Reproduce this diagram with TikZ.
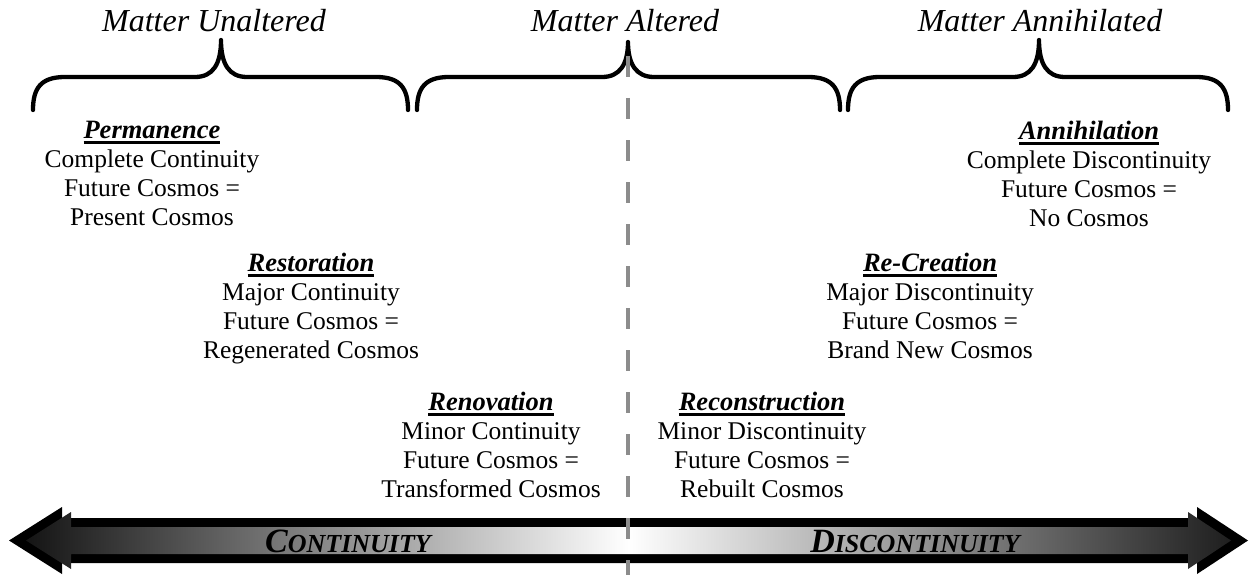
\documentclass[tikz,border=0pt]{standalone}
\usepackage{fontspec}
\setmainfont{Liberation Serif}
% bold italic title with a heavy underline
\newcommand\titleline[1]{\setbox0\hbox{\fontsize{26.5}{29}\selectfont\bfseries\itshape #1}\rlap{\rule[-5pt]{\wd0}{2.3pt}}\box0}
\begin{document}
\begin{tikzpicture}[x=1pt,y=-1pt,
  bracepath/.style={line width=4.3pt, line cap=round, line join=round},
  heading/.style={font=\fontsize{32}{36}\selectfont\itshape, anchor=base, inner sep=0pt},
  viewbox/.style={align=center, font=\fontsize{25.5}{29}\selectfont, inner sep=0pt, anchor=north},
  axislabel/.style={anchor=base, inner sep=0pt, font=\bfseries\itshape},
  divider/.style={line width=3.5pt, draw=black!45, dash pattern=on 21pt off 21pt}
]
\useasboundingbox (0,0) rectangle (1249,575);

% category headings
\node[heading] (unalt) at (214,32) {Matter Unaltered};
\node[heading] (alt)   at (625,32) {Matter Altered};
\node[heading] (annih) at (1040,32) {Matter Annihilated};

% curly braces under the headings
\foreach \xa/\xt/\xb/\ty in {33/221/408/40, 417/628/840/42, 848/1039/1228/40}{
  \draw[bracepath] (\xa,110) .. controls (\xa,88) and (\xa+8,77) .. (\xa+32,77)
    -- (\xt-26,77) .. controls (\xt-8,77) and (\xt,64) .. (\xt,\ty)
    .. controls (\xt,64) and (\xt+8,77) .. (\xt+26,77)
    -- (\xb-32,77) .. controls (\xb-8,77) and (\xb,88) .. (\xb,110);
}

% the six views
\node[viewbox] (perm) at (152,121) {\titleline{Permanence}\\Complete Continuity\\Future Cosmos =\\Present Cosmos};
\node[viewbox] (rest) at (311,253) {\titleline{Restoration}\\Major Continuity\\Future Cosmos =\\Regenerated Cosmos};
\node[viewbox] (reno) at (491,392) {\titleline{Renovation}\\Minor Continuity\\Future Cosmos =\\Transformed Cosmos};
\node[viewbox] (recon) at (762,392) {\titleline{Reconstruction}\\Minor Discontinuity\\Future Cosmos =\\Rebuilt Cosmos};
\node[viewbox] (recre) at (930,253) {\titleline{Re-Creation}\\Major Discontinuity\\Future Cosmos =\\Brand New Cosmos};
\node[viewbox] (annihil) at (1089,121) {\titleline{Annihilation}\\Complete Discontinuity\\Future Cosmos =\\No Cosmos};

% double-headed shaded axis arrow
\fill[black] (9,540.5) -- (62,507) -- (62,518) -- (1197,518) -- (1197,507) -- (1248,540.5)
  -- (1197,574) -- (1197,563) -- (62,563) -- (62,574) -- cycle;
\shade[left color=black!92, right color=black!88, middle color=white]
  (26,540.5) -- (71,512) -- (71,527) -- (1188,527) -- (1188,512) -- (1231,540.5)
  -- (1188,569) -- (1188,554) -- (71,554) -- (71,569) -- cycle;

\node[axislabel] (cont) at (348,552) {\fontsize{34}{34}\selectfont C\fontsize{26}{26}\selectfont ONTINUITY};
\node[axislabel] (discont) at (915,552) {\fontsize{34}{34}\selectfont D\fontsize{26}{26}\selectfont ISCONTINUITY};

% dashed divider between continuity and discontinuity
\coordinate (divtop) at (628,56);
\coordinate (divbot) at (628,580);
\draw[divider] (divtop) -- (divbot);
\end{tikzpicture}
\end{document}
